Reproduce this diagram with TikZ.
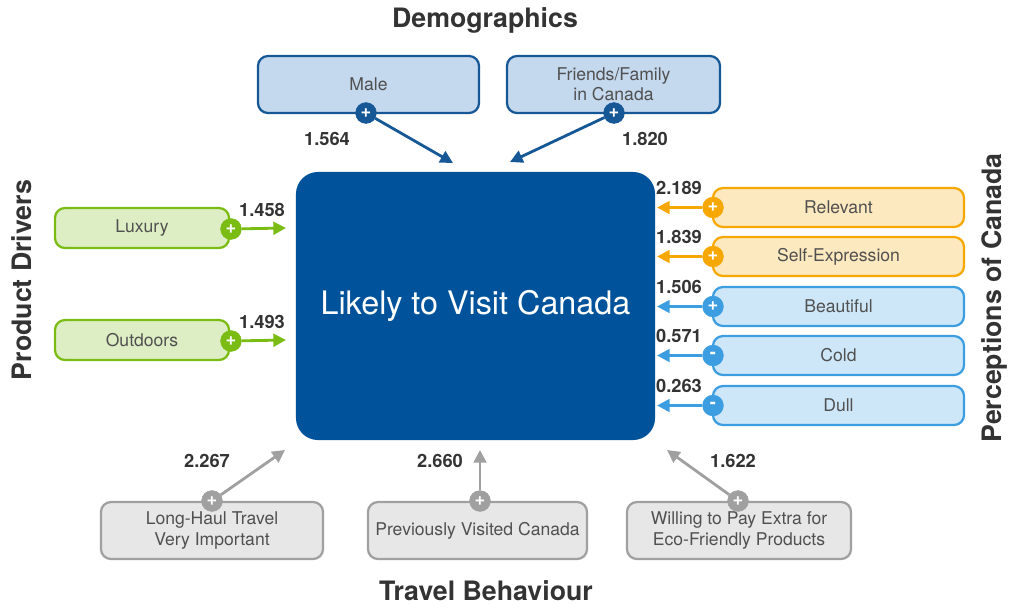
\documentclass[tikz,border=0pt]{standalone}
\usepackage{fontspec}
\setmainfont{TeX Gyre Heros}
\usetikzlibrary{arrows.meta, positioning}
\definecolor{mainblue}{RGB}{0, 83, 155}
\definecolor{demoblue}{RGB}{22, 88, 150}
\definecolor{demofill}{RGB}{196, 216, 238}
\definecolor{percorange}{RGB}{247, 168, 0}
\definecolor{percblue}{RGB}{60, 158, 225}
\definecolor{drivgreen}{RGB}{122, 188, 20}
\definecolor{travgray}{RGB}{160, 160, 160}
\definecolor{txtgray}{RGB}{80, 80, 80}
\definecolor{valgray}{RGB}{51, 51, 51}

\begin{document}
\begin{tikzpicture}[x=0.025cm, y=-0.025cm,
  factor/.style={draw=#1, fill=#1!25, line width=1.6pt, rounded corners=0.25cm,
    text=txtgray, font=\fontsize{12.5}{15.5}\selectfont, align=center, inner sep=0pt},
  sign/.style={circle, fill=#1, draw=#1, text=white, font=\bfseries\fontsize{13}{13}\selectfont,
    minimum size=0.52cm, inner sep=0pt},
  link/.style={draw=#1, line width=2pt, -{Triangle[length=9pt, width=9pt]}},
  val/.style={font=\bfseries\fontsize{13}{15}\selectfont, text=valgray},
  heading/.style={font=\bfseries\fontsize{19}{22}\selectfont, text=valgray},
]
  \useasboundingbox (0,0) rectangle (1012,608);

  % Central outcome
  \node[fill=mainblue, rounded corners=0.55cm, minimum width=8.975cm, minimum height=6.7cm,
    text=white, font=\fontsize{23}{27}\selectfont] (visit) at (475.5,306) {Likely to Visit Canada};

  % Headings
  \node[heading] (demo-h) at (485,20) {Demographics};
  \node[heading] (trav-h) at (486,591) {Travel Behaviour};
  \node[heading, rotate=90] (driv-h) at (22,280) {Product Drivers};
  \node[heading, rotate=90] (perc-h) at (994,298) {Perceptions of Canada};

  % Demographics
  \node[factor=demoblue, fill=demofill, minimum width=5.525cm, minimum height=1.425cm] (male) at (368.5,84.5) {Male};
  \node[factor=demoblue, fill=demofill, minimum width=5.325cm, minimum height=1.425cm,
    font=\fontsize{12.5}{14.5}\selectfont] (fam) at (613.5,84.5) {Friends/Family\\in Canada};
  \node[sign=demoblue] (male-s) at (366,113) {+};
  \node[sign=demoblue] (fam-s) at (614,113) {+};
  \coordinate (male-in) at (453,163);
  \coordinate (fam-in) at (510,162);
  \draw[link=demoblue] (male-s) -- (male-in);
  \draw[link=demoblue] (fam-s) -- (fam-in);
  \node[val] (male-v) at (327,139) {1.564};
  \node[val] (fam-v) at (645,139) {1.820};

  % Product drivers
  \foreach \y/\lab/\nm/\v in {228/Luxury/lux/1.458, 340/Outdoors/out/1.493} {
    \node[factor=drivgreen, minimum width=4.35cm, minimum height=1.0cm] (\nm) at (142,\y) {\lab};
    \node[sign=drivgreen] (\nm-s) at (231,\y+1) {+};
    \coordinate (\nm-in) at (286,\y);
    \draw[link=drivgreen] (\nm-s) -- (\nm-in);
    \node[val] (\nm-v) at (262,\y-18) {\v};
  }

  % Perceptions of Canada
  \foreach \y/\lab/\nm/\col/\sg/\v in {
    207.5/Relevant/rel/percorange/+/2.189,
    256.5/Self-Expression/self/percorange/+/1.839,
    306.5/Beautiful/beau/percblue/+/1.506,
    355.5/Cold/cold/percblue/-/0.571,
    405.5/Dull/dull/percblue/-/0.263
  } {
    \node[factor=\col, minimum width=6.275cm, minimum height=0.975cm] (\nm) at (838.5,\y) {\lab};
    \node[sign=\col] (\nm-s) at (713,\y) {\sg};
    \coordinate (\nm-in) at (657,\y);
    \draw[link=\col] (\nm-s) -- (\nm-in);
    \node[val] (\nm-v) at (679,\y-20) {\v};
  }

  % Travel behaviour
  \node[factor=travgray, minimum width=5.55cm, minimum height=1.425cm] (haul) at (212,530.5) {Long-Haul Travel\\Very Important};
  \node[factor=travgray, minimum width=5.475cm, minimum height=1.425cm] (prev) at (477.5,530.5) {Previously Visited Canada};
  \node[factor=travgray, minimum width=5.6cm, minimum height=1.425cm] (eco) at (739,530.5) {Willing to Pay Extra for\\Eco-Friendly Products};
  \node[sign=travgray] (haul-s) at (212,501) {+};
  \node[sign=travgray] (prev-s) at (480,501) {+};
  \node[sign=travgray] (eco-s) at (738,501) {+};
  \coordinate (haul-in) at (285,450);
  \coordinate (prev-in) at (480,450);
  \coordinate (eco-in) at (667,450);
  \draw[link=travgray] (haul-s) -- (haul-in);
  \draw[link=travgray] (prev-s) -- (prev-in);
  \draw[link=travgray] (eco-s) -- (eco-in);
  \node[val] (haul-v) at (207,461) {2.267};
  \node[val] (prev-v) at (440,461) {2.660};
  \node[val] (eco-v) at (733,461) {1.622};

\end{tikzpicture}
\end{document}
